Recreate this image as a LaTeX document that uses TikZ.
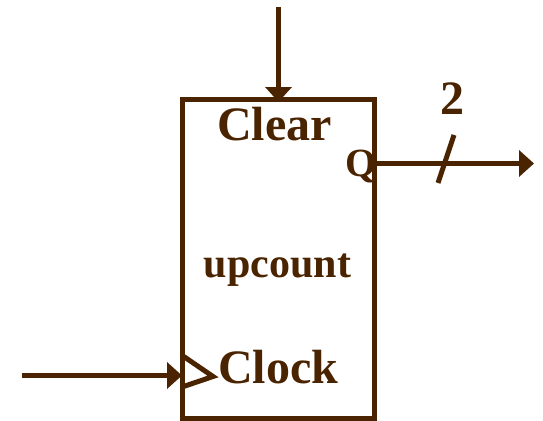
\documentclass[tikz,border=0pt]{standalone}
\usepackage{fontspec}
\usepackage{xcolor}
\usetikzlibrary{arrows.meta}
\setmainfont{Liberation Serif}
\definecolor{wirebrown}{HTML}{4A2400}
\tikzset{
    x=1pt, y=-1pt,
    counter-box/.style = {draw=wirebrown, fill=white, line width=5pt, rectangle, minimum width=192pt, minimum height=319pt, inner sep=0pt},
    counter-label/.style = {text=wirebrown, font=\bfseries\fontsize{48}{50}\selectfont, anchor=base, inner sep=0pt},
    wire/.style = {draw=wirebrown, line width=5pt, -{Triangle[width=26pt,length=15pt]}},
    tick/.style = {draw=wirebrown, line width=5pt},
}

\begin{document}
\begin{tikzpicture}
\useasboundingbox (0,0) rectangle (543,420);
\node [counter-box] (box) at (278.5,259) {};
\node [counter-label] (clear) at (274.5,140) {Clear};
\node [counter-label, font=\bfseries\fontsize{40}{44}\selectfont] (q) at (361,176) {Q};
\node [counter-label, font=\bfseries\fontsize{42}{46}\selectfont] (upcount) at (277.5,277) {upcount};
\node [counter-label] (clock) at (278,383) {Clock};
\node [counter-label] (width) at (452.5,114) {2};
\coordinate (clear-in) at (278.5,7);
\coordinate (clock-in) at (22,375.5);
\coordinate (q-start) at (374,163.5);
\coordinate (q-end) at (534,163.5);
\draw [wire, shorten >=-5pt] (clear-in) -- (box.north);
\draw [wire, shorten >=-2pt] (clock-in) -- (box.west |- clock-in);
\draw [wire] (q-start) -- (q-end);
\draw [tick] (438,183) -- (454,135);
\draw [tick] (183,356) -- (213,376.5) -- (182,387);
\end{tikzpicture}
\end{document}
